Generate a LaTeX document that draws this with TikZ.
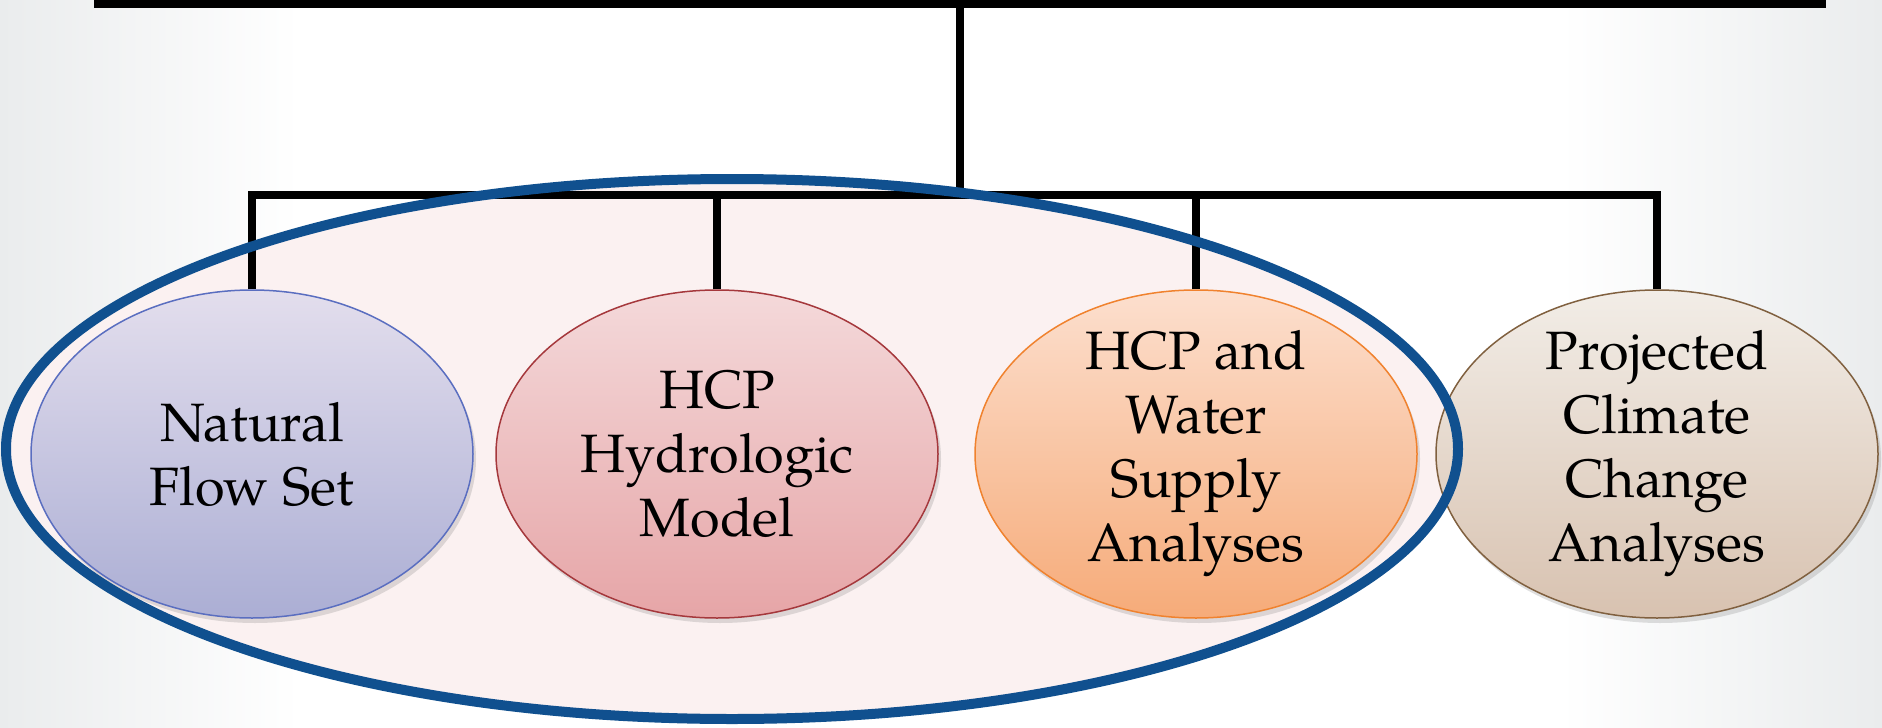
\documentclass[tikz,border=0pt]{standalone}
\usepackage{fontspec}
\setmainfont{TeX Gyre Pagella}
\usetikzlibrary{shapes.geometric}
\usetikzlibrary{shadows}

\definecolor{focusblue}{HTML}{10508F}
\definecolor{focusfill}{HTML}{FBF1F1}
\definecolor{bgedge}{HTML}{EAECED}
\definecolor{natline}{HTML}{5A6EC0}
\definecolor{nattop}{HTML}{E3DEED}
\definecolor{natbot}{HTML}{ABAED4}
\definecolor{hcpline}{HTML}{A5383C}
\definecolor{hcptop}{HTML}{F4D9DA}
\definecolor{hcpbot}{HTML}{E6A5A7}
\definecolor{watline}{HTML}{F0822E}
\definecolor{wattop}{HTML}{FCDFCE}
\definecolor{watbot}{HTML}{F6AB79}
\definecolor{climline}{HTML}{80603F}
\definecolor{climtop}{HTML}{F2EDE7}
\definecolor{climbot}{HTML}{D8C2B0}

\begin{document}
\begin{tikzpicture}[x=1pt,y=-1pt,
  bubble/.style={ellipse, inner sep=0pt, minimum width=442pt, minimum height=328pt,
    line width=1.5pt, drop shadow={shadow xshift=3pt,shadow yshift=-5pt,opacity=.25}},
  txt/.style={align=center, font=\fontsize{54}{64}\selectfont},
  tree/.style={black, line width=7.5pt}]
\useasboundingbox (0,0) rectangle (1882,728);
\fill[white] (0,0) rectangle (1882,728);
\shade[left color=bgedge, right color=white] (0,0) rectangle (300,728);
\shade[left color=white, right color=bgedge] (1560,0) rectangle (1882,728);

\fill[focusfill] (732,449) ellipse [x radius=726, y radius=270];

\node[bubble, draw=natline, top color=nattop, bottom color=natbot,
  label={[txt]center:Natural\\Flow Set}] (natflow) at (252,454) {};
\node[bubble, draw=hcpline, top color=hcptop, bottom color=hcpbot,
  label={[txt]center:HCP\\Hydrologic\\Model}] (hcpmodel) at (717,454) {};
\node[bubble, draw=watline, top color=wattop, bottom color=watbot,
  label={[txt]center:HCP and\\Water\\Supply\\Analyses}] (watsupply) at (1196,454) {};
\node[bubble, draw=climline, top color=climtop, bottom color=climbot,
  label={[txt]center:Projected\\Climate\\Change\\Analyses}] (climate) at (1657,454) {};

\coordinate (barL) at (94,3);
\coordinate (barR) at (1826,3);
\coordinate (topbar) at (960,3);
\coordinate (hub) at (960,195);
\draw[black, line width=9pt] (barL) -- (barR);
\draw[tree] (topbar) -- (hub);
\draw[tree] (natflow.north) -- (natflow.north |- hub) -- (climate.north |- hub) -- (climate.north);
\foreach \n in {hcpmodel, watsupply} {
  \draw[tree] (\n.north) -- (\n.north |- hub);
}

\draw[focusblue, line width=10pt] (732,449) ellipse [x radius=726, y radius=270];
\end{tikzpicture}
\end{document}
